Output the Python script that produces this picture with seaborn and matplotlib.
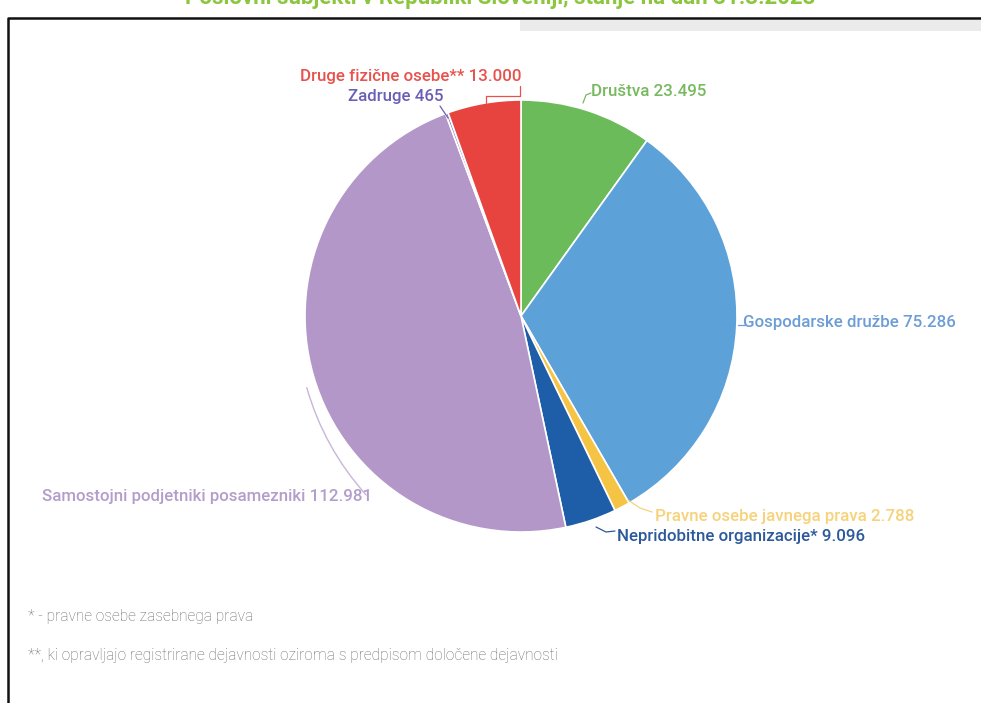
import matplotlib
matplotlib.use("Agg")
import matplotlib.pyplot as plt
import seaborn as sns
from matplotlib.patches import Rectangle

sns.set_theme(style="white")
plt.rcParams['font.family'] = ['Roboto', 'DejaVu Sans']

categories = ["Društva", "Gospodarske družbe", "Pravne osebe javnega prava",
              "Nepridobitne organizacije*", "Samostojni podjetniki posamezniki",
              "Zadruge", "Druge fizične osebe**"]
values = [23495, 75286, 2788, 9096, 112981, 465, 13000]
value_labels = ["23.495", "75.286", "2.788", "9.096", "112.981", "465", "13.000"]
slice_colors = ["#6cbb5b", "#5da1d9", "#f6c445", "#1e5da7", "#b497c9", "#8c80c6", "#e8443f"]
label_colors = ["#76b95e", "#6c9dd6", "#f6d27a", "#2b599c", "#b39dcb", "#6a5fb6", "#e8524c"]

title = "Poslovni subjekti v Republiki Sloveniji, stanje na dan 31.3.2023"
footnotes = ["* - pravne osebe zasebnega prava",
             "**, ki opravljajo registrirane dejavnosti oziroma s predpisom določene dejavnosti"]

W, H = 981, 703
fig = plt.figure(figsize=(W / 100, H / 100), dpi=100)
ax = fig.add_axes([0, 0, 1, 1])

def Y(y):
    return H - y

cx, cy, r = 521, Y(316), 216
wedges, _ = ax.pie(values, colors=slice_colors, startangle=90, counterclock=False,
                   center=(cx, cy), radius=r, frame=True,
                   wedgeprops=dict(edgecolor="white", linewidth=1.2))
ax.set_xlim(0, W)
ax.set_ylim(0, H)
ax.axis("off")

# frame and header strip
ax.add_patch(Rectangle((520, Y(31)), W - 520, 11, color="#ebebeb", lw=0, zorder=0))
ax.plot([8, 8, W], [0, Y(18), Y(18)], color="#111111", lw=1.8, zorder=1, solid_capstyle="butt")

fs = 12.2
specs = {
    0: dict(xy=(591, Y(92)), ha="left", path=[(583, Y(103)), (586, Y(95)), (591, Y(93))]),
    1: dict(xy=(743, Y(323)), ha="left", path=[(738, Y(325)), (745, Y(325))]),
    2: dict(xy=(655, Y(516)), ha="left", path=[(628, Y(500)), (640, Y(508)), (652, Y(512))]),
    3: dict(xy=(617, Y(536)), ha="left", path=[(596, Y(527)), (606, Y(532)), (615, Y(531))]),
    4: dict(xy=(42, Y(496)), ha="left", path=None),
    5: dict(xy=(443, Y(97)), ha="right", path=[(448, Y(118)), (440, Y(106))]),
    6: dict(xy=(522, Y(76)), ha="right", path=[(486, Y(103)), (486, Y(96)), (520, Y(96)), (520, Y(86))]),
}
for i, cat in enumerate(categories):
    s = specs[i]
    ax.text(s["xy"][0], s["xy"][1], f"{cat} {value_labels[i]}", color=label_colors[i],
            fontsize=fs, fontweight="medium", ha=s["ha"], va="center", zorder=5)
    if s["path"]:
        xs, ys = zip(*s["path"])
        ax.plot(xs, ys, color=label_colors[i], lw=0.9, zorder=4)

# curved connector for the large purple slice
ax.annotate("", xy=(306, Y(385)), xytext=(368, Y(497)),
            arrowprops=dict(arrowstyle="-", color="#c8b6da", lw=1.0,
                            connectionstyle="arc3,rad=-0.12"), zorder=4)

ax.text(500, Y(4), title, color="#8cc63f", fontsize=16, fontweight="bold",
        ha="center", va="baseline", zorder=6)

ax.text(28, Y(616), footnotes[0], color="#6a6a6a", fontsize=11.2, fontweight="light",
        ha="left", va="center")
ax.text(28, Y(655), footnotes[1], color="#6a6a6a", fontsize=11.2, fontweight="light",
        ha="left", va="center")

fig.savefig("out.png", dpi=100)
